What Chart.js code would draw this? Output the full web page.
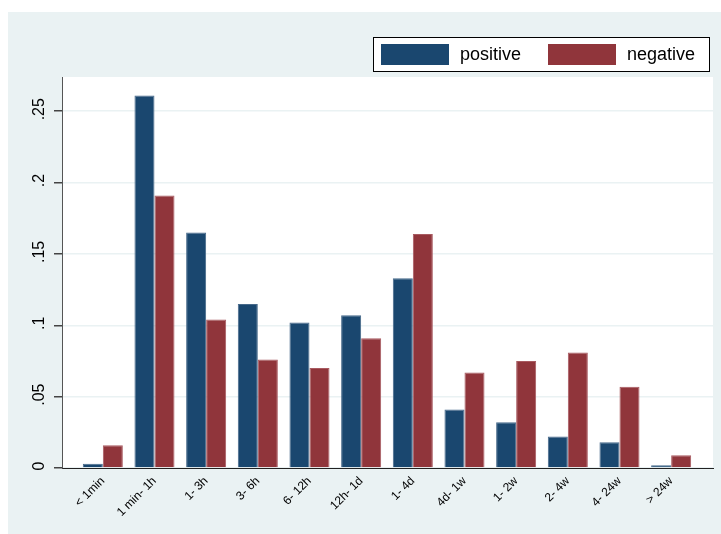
<!DOCTYPE html>
<html lang="en">
<head>
    <meta charset="UTF-8">
    <title>Response time distribution</title>
    <style>
        body, html {
            margin: 0;
            padding: 0;
            background: #fff;
        }
        .chart-container {
            width: 721px;
            height: 534px;
        }
    </style>
    <script src="https://cdn.jsdelivr.net/npm/chart.js"></script>
</head>
<body>
    <div class="chart-container">
        <canvas id="timeChart"></canvas>
    </div>
    <script>
        const categories = ['< 1min', '1 min- 1h', '1- 3h', '3- 6h', '6- 12h', '12h- 1d',
                            '1- 4d', '4d- 1w', '1- 2w', '2- 4w', '4- 24w', '> 24w'];
        const positiveShare = [0.003, 0.261, 0.165, 0.115, 0.102, 0.107,
                               0.133, 0.041, 0.032, 0.022, 0.018, 0.002];
        const negativeShare = [0.016, 0.191, 0.104, 0.076, 0.070, 0.091,
                               0.164, 0.067, 0.075, 0.081, 0.057, 0.009];
        const yTicks = [0, 0.05, 0.1, 0.15, 0.2, 0.25];

        const FONT = "'Liberation Sans', Arial, sans-serif";
        const PANEL = '#eaf2f3';

        const fmtY = v => v === 0 ? '0' : v.toFixed(2).replace(/0$/, '').replace(/^0/, '');

        // graph region colour, white plot area
        const backdrop = {
            id: 'backdrop',
            beforeDraw(chart) {
                const { ctx, chartArea: a } = chart;
                ctx.save();
                ctx.fillStyle = '#fff';
                ctx.fillRect(0, 0, chart.width, chart.height);
                ctx.fillStyle = PANEL;
                ctx.fillRect(8, 12, chart.width - 8, chart.height - 12);
                ctx.fillStyle = '#fff';
                ctx.fillRect(a.left, a.top, a.right - a.left, a.bottom - a.top);
                ctx.restore();
            }
        };

        // vertical y labels, centred on their ticks
        const yLabels = {
            id: 'yLabels',
            afterDraw(chart) {
                const ctx = chart.ctx;
                const y = chart.scales.y;
                ctx.save();
                ctx.font = '16px ' + FONT;
                ctx.fillStyle = '#000';
                ctx.textAlign = 'center';
                ctx.textBaseline = 'middle';
                yTicks.forEach(v => {
                    ctx.save();
                    ctx.translate(40, y.getPixelForValue(v) - 2);
                    ctx.rotate(-Math.PI / 2);
                    ctx.fillText(fmtY(v), 0, 0);
                    ctx.restore();
                });
                ctx.restore();
            }
        };

        // boxed legend in the top right corner
        const boxedLegend = {
            id: 'boxedLegend',
            afterDraw(chart) {
                const ctx = chart.ctx;
                ctx.save();
                ctx.fillStyle = '#fff';
                ctx.fillRect(373, 37, 336, 34);
                ctx.strokeStyle = '#000';
                ctx.lineWidth = 1;
                ctx.strokeRect(373.5, 37.5, 336, 34);
                ctx.font = '18px ' + FONT;
                ctx.textBaseline = 'middle';
                const slots = [381, 548];
                chart.data.datasets.forEach((ds, i) => {
                    ctx.fillStyle = ds.backgroundColor;
                    ctx.fillRect(slots[i], 44, 68, 21);
                    ctx.fillStyle = '#000';
                    ctx.fillText(ds.label, slots[i] + 79, 55);
                });
                ctx.restore();
            }
        };

        const ctx = document.getElementById('timeChart').getContext('2d');
        new Chart(ctx, {
            type: 'bar',
            data: {
                datasets: [{
                    label: 'positive',
                    data: positiveShare.map((v, i) => ({ x: i, y: v })),
                    backgroundColor: '#1a476f',
                    borderColor: '#46698a',
                    borderWidth: 1
                }, {
                    label: 'negative',
                    data: negativeShare.map((v, i) => ({ x: i, y: v })),
                    backgroundColor: '#90353b',
                    borderColor: '#a85a60',
                    borderWidth: 1
                }]
            },
            options: {
                responsive: true,
                maintainAspectRatio: false,
                animation: false,
                layout: { padding: { top: 77, right: 8, left: 0, bottom: 0 } },
                categoryPercentage: 0.775,
                barPercentage: 1,
                plugins: {
                    legend: { display: false },
                    tooltip: { enabled: false }
                },
                scales: {
                    x: {
                        type: 'linear',
                        offset: false,
                        min: -0.79,
                        max: 11.81,
                        afterFit(scale) { scale.height = 66; },
                        grid: { display: false, offset: false },
                        border: { color: '#222', width: 1 },
                        ticks: {
                            stepSize: 1,
                            includeBounds: false,
                            autoSkip: false,
                            minRotation: 45,
                            maxRotation: 45,
                            padding: -2,
                            color: '#000',
                            font: { family: FONT, size: 12 },
                            callback: v => Number.isInteger(v) ? (categories[v] ?? '') : ''
                        }
                    },
                    y: {
                        min: 0,
                        max: 0.274,
                        afterFit(scale) { scale.width = 62; },
                        afterBuildTicks(scale) {
                            scale.ticks = yTicks.map(v => ({ value: v }));
                        },
                        grid: {
                            color: PANEL,
                            lineWidth: 1.5,
                            tickColor: '#444',
                            tickLength: 8
                        },
                        border: { color: '#555', width: 1 },
                        ticks: { display: false }
                    }
                }
            },
            plugins: [backdrop, yLabels, boxedLegend]
        });
    </script>
</body>
</html>
